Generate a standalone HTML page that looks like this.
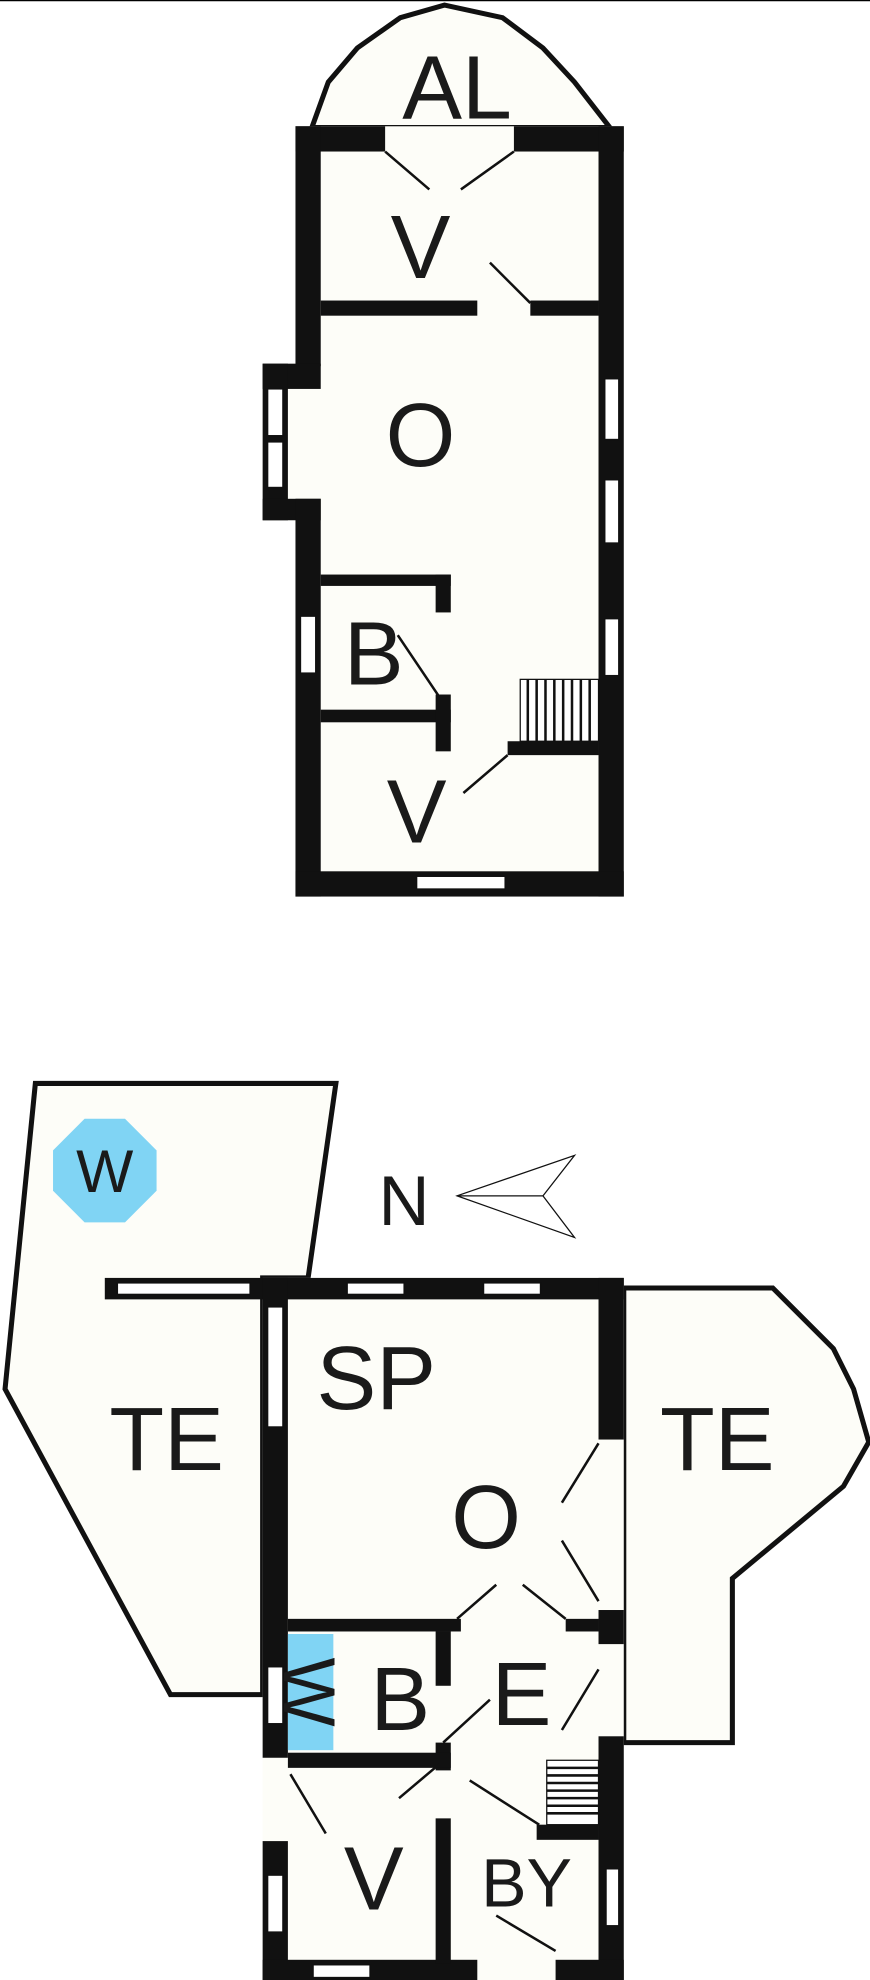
<!DOCTYPE html>
<html><head><meta charset="utf-8"><style>
html,body{margin:0;padding:0;background:#fff;}
svg{display:block}
text{font-family:"Liberation Sans",sans-serif;fill:#1a1a1a;text-anchor:middle}
</style></head><body>
<svg width="870" height="1980" viewBox="0 0 689 1568" preserveAspectRatio="none" xmlns="http://www.w3.org/2000/svg">
<line x1="0" y1="0.5" x2="689" y2="0.5" stroke="#000" stroke-width="1"/>
<!-- UPPER BUILDING -->
<polygon points="247,101 260,65 283,38 317,14 352,4 398,14 430,38 455,65 483,101" fill="#fdfdf8" stroke="#111" stroke-width="4"/>
<rect x="234" y="100" width="260" height="610" fill="#fdfdf8"/>
<rect x="208" y="288" width="30" height="124" fill="#fdfdf8"/>
<g fill="#111">
<rect x="234" y="100" width="71" height="20"/>
<rect x="407" y="100" width="87" height="20"/>
<rect x="234" y="100" width="20" height="190"/>
<rect x="208" y="288" width="46" height="20"/>
<rect x="208" y="288" width="20" height="124"/>
<rect x="208" y="395" width="46" height="17"/>
<rect x="234" y="395" width="20" height="315"/>
<rect x="474" y="100" width="20" height="610"/>
<rect x="234" y="690" width="260" height="20"/>
<rect x="254" y="238" width="124" height="12"/>
<rect x="420" y="238" width="54" height="12"/>
<rect x="254" y="455" width="103" height="9"/>
<rect x="345" y="455" width="12" height="30"/>
<rect x="254" y="562" width="103" height="10"/>
<rect x="345" y="550" width="12" height="45"/>
<rect x="402" y="587" width="72" height="11"/>
</g>
<g fill="#fff" stroke="#111" stroke-width="1">
<rect x="212" y="308" width="12" height="37"/>
<rect x="212" y="350" width="12" height="36"/>
<rect x="479" y="300" width="11" height="48"/>
<rect x="479" y="380" width="11" height="50"/>
<rect x="479" y="490" width="11" height="45"/>
<rect x="238" y="488" width="12" height="45"/>
<rect x="330" y="694" width="70" height="10"/>
<rect x="412" y="538" width="62" height="49"/>
</g>
<g stroke="#111" stroke-width="2">
<line x1="418" y1="538" x2="418" y2="587"/><line x1="425" y1="538" x2="425" y2="587"/><line x1="432" y1="538" x2="432" y2="587"/><line x1="439" y1="538" x2="439" y2="587"/><line x1="446" y1="538" x2="446" y2="587"/><line x1="453" y1="538" x2="453" y2="587"/><line x1="460" y1="538" x2="460" y2="587"/><line x1="467" y1="538" x2="467" y2="587"/>
</g>
<g stroke="#111" stroke-width="2">
<line x1="305" y1="120" x2="340" y2="150"/>
<line x1="407" y1="120" x2="365" y2="150"/>
<line x1="388" y1="208" x2="420" y2="240"/>
<line x1="315" y1="503" x2="348" y2="552"/>
<line x1="367" y1="628" x2="402" y2="598"/>
</g>
<text x="362" y="94" font-size="71">AL</text>
<text x="333" y="220" font-size="71">V</text>
<text x="333" y="369" font-size="71">O</text>
<text x="296" y="542" font-size="71">B</text>
<text x="330" y="667" font-size="71">V</text>

<!-- LOWER BUILDING -->
<polygon points="28,858 266,858 244,1012 208,1012 208,1342 135,1342 4,1100" fill="#fdfdf8" stroke="#111" stroke-width="4"/>
<polygon points="494,1020 612,1020 660,1068 676,1100 688,1142 668,1177 580,1250 580,1380 494,1380" fill="#fdfdf8" stroke="#111" stroke-width="4"/>
<polygon points="67,886 99,886 124,911 124,943 99,968 67,968 42,943 42,911" fill="#80d4f4"/>
<text x="83" y="944" font-size="48">W</text>
<text x="320" y="970" font-size="56">N</text>
<polygon points="362,947 455,915 430,947 455,980" fill="#fff" stroke="#111" stroke-width="1"/>
<line x1="362" y1="947" x2="430" y2="947" stroke="#111" stroke-width="1"/>
<rect x="208" y="1012" width="286" height="556" fill="#fdfdf8"/>
<g fill="#111">
<rect x="83" y="1012" width="411" height="17"/>
<rect x="208" y="1012" width="20" height="380"/>
<rect x="208" y="1458" width="20" height="110"/>
<rect x="474" y="1012" width="20" height="128"/>
<rect x="474" y="1275" width="20" height="27"/>
<rect x="448" y="1282" width="26" height="10"/>
<rect x="474" y="1375" width="20" height="193"/>
<rect x="208" y="1552" width="170" height="16"/>
<rect x="440" y="1552" width="54" height="16"/>
<rect x="228" y="1282" width="137" height="10"/>
<rect x="345" y="1292" width="12" height="43"/>
<rect x="345" y="1380" width="12" height="22"/>
<rect x="228" y="1388" width="129" height="12"/>
<rect x="345" y="1440" width="12" height="115"/>
<rect x="425" y="1445" width="49" height="12"/>
</g>
<rect x="228" y="1294" width="36" height="92" fill="#80d4f4"/>
<text transform="translate(246,1340) rotate(90)" font-size="58" dy="21">W</text>
<g fill="#fff" stroke="#111" stroke-width="1">
<rect x="93" y="1016" width="105" height="9"/>
<rect x="275" y="1016" width="45" height="9"/>
<rect x="383" y="1016" width="45" height="9"/>
<rect x="212" y="1035" width="12" height="95"/>
<rect x="212" y="1320" width="12" height="45"/>
<rect x="212" y="1485" width="12" height="45"/>
<rect x="480" y="1480" width="10" height="45"/>
<rect x="248" y="1556" width="45" height="10"/>
<rect x="433" y="1394" width="41" height="51"/>
</g>
<g stroke="#111" stroke-width="2">
<line x1="433" y1="1400" x2="474" y2="1400"/><line x1="433" y1="1406" x2="474" y2="1406"/><line x1="433" y1="1412" x2="474" y2="1412"/><line x1="433" y1="1418" x2="474" y2="1418"/><line x1="433" y1="1424" x2="474" y2="1424"/><line x1="433" y1="1430" x2="474" y2="1430"/><line x1="433" y1="1436" x2="474" y2="1436"/>
</g>
<g stroke="#111" stroke-width="2">
<line x1="445" y1="1190" x2="474" y2="1143"/>
<line x1="445" y1="1220" x2="474" y2="1268"/>
<line x1="362" y1="1282" x2="393" y2="1255"/>
<line x1="414" y1="1255" x2="448" y2="1282"/>
<line x1="351" y1="1380" x2="388" y2="1346"/>
<line x1="445" y1="1370" x2="474" y2="1322"/>
<line x1="316" y1="1424" x2="348" y2="1397"/>
<line x1="372" y1="1410" x2="427" y2="1445"/>
<line x1="230" y1="1405" x2="258" y2="1452"/>
<line x1="393" y1="1517" x2="440" y2="1545"/>
</g>
<text x="132" y="1164" font-size="71">TE</text>
<text x="298" y="1116" font-size="71">SP</text>
<text x="385" y="1226" font-size="71">O</text>
<text x="568" y="1164" font-size="71">TE</text>
<text x="413" y="1366" font-size="71">E</text>
<text x="317" y="1370" font-size="71">B</text>
<text x="296" y="1512" font-size="71">V</text>
<text x="417" y="1510" font-size="54">BY</text>
</svg>
</body></html>
